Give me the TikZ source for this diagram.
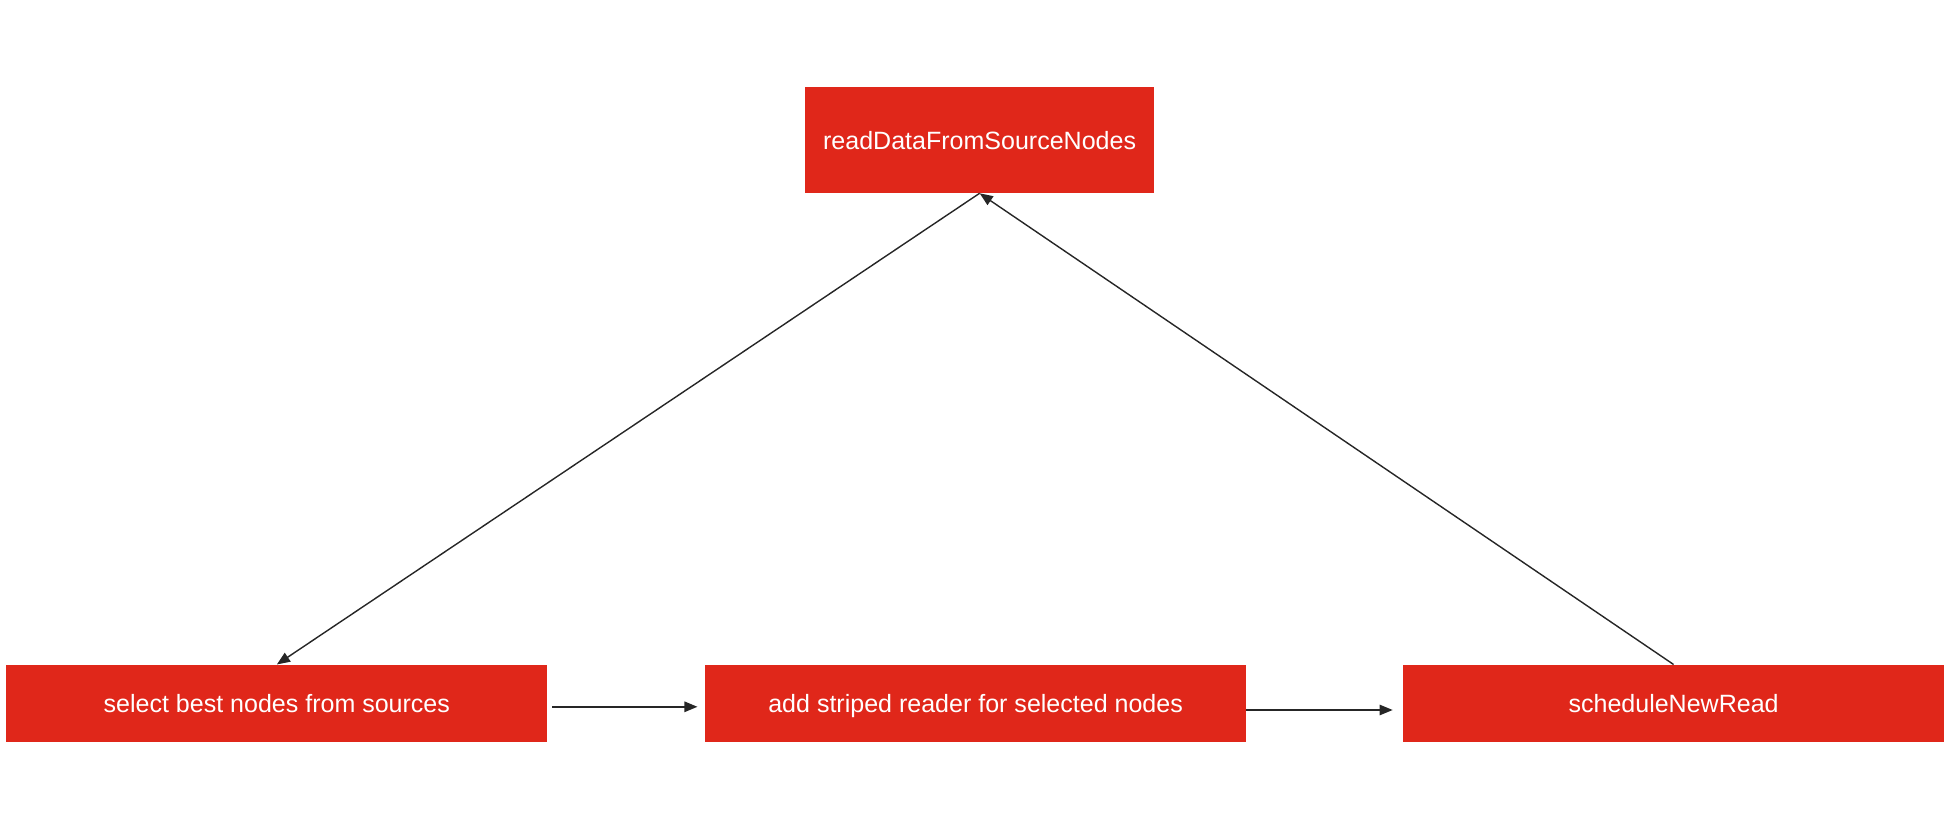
\documentclass[tikz,border=0pt]{standalone}
\usepackage{fontspec}
\setmainfont{Liberation Sans}
\usetikzlibrary{arrows.meta}
\definecolor{boxred}{RGB}{224,39,26}
\begin{document}
\begin{tikzpicture}[
    stepbox/.style={fill=boxred,text=white,inner sep=0pt,minimum height=1.94cm,minimum width=13.53cm,text height=13pt,text depth=0pt,font=\fontsize{17.8}{21}\selectfont},
    link/.style={->,>={Triangle[length=0.33cm,width=0.26cm]},line width=1pt,draw=black!85}
  ]
    \useasboundingbox (0,0) rectangle (49,20.4);
    \node[stepbox,minimum width=8.72cm,minimum height=2.65cm] (read) at (24.49,16.9) {readDataFromSourceNodes};
    \node[stepbox] (select) at (6.92,2.81) {select best nodes from sources};
    \node[stepbox] (striped) at (24.39,2.81) {add striped reader for selected nodes};
    \node[stepbox] (schedule) at (41.84,2.81) {scheduleNewRead};
    \draw[link] (read.south) -- (select.north);
    \draw[link] (schedule.north) -- (read.south);
    \draw[link,line width=1.3pt,shorten <=0.12cm,shorten >=0.18cm] ([yshift=-0.08cm]select.east) -- ([yshift=-0.08cm]striped.west);
    \draw[link,line width=1.3pt,shorten >=0.25cm] ([yshift=-0.16cm]striped.east) -- ([yshift=-0.16cm]schedule.west);
\end{tikzpicture}
\end{document}
